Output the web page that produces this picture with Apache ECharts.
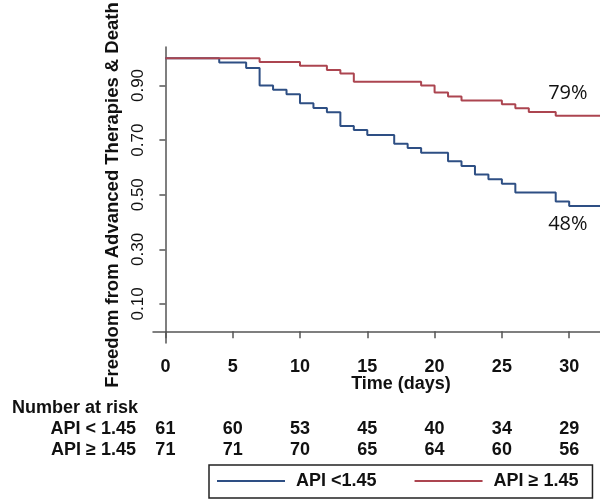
<!DOCTYPE html>
<html>
<head>
<meta charset="utf-8">
<script src="https://cdn.jsdelivr.net/npm/echarts@6/dist/echarts.min.js"></script>
<style>
html,body{margin:0;padding:0;background:#fff;}
#chart{width:600px;height:504px;}
</style>
</head>
<body>
<div id="chart"></div>
<script>
// ---- data ----
var xTicks = [0, 5, 10, 15, 20, 25, 30];
var yTicks = [0.1, 0.3, 0.5, 0.7, 0.9];
var lowName = 'API <1.45';
var highName = 'API \u2265 1.45';
var lowTimes = [0, 4, 6, 7, 8, 9, 10, 11, 12, 13, 14, 15, 17, 18, 19, 21, 22, 23, 24, 25, 26, 29, 30, 33];
var lowSurv  = [1.0, 0.984, 0.964, 0.900, 0.884, 0.868, 0.835, 0.818, 0.802, 0.752, 0.737, 0.719, 0.687, 0.671, 0.654, 0.623, 0.605, 0.574, 0.557, 0.540, 0.508, 0.475, 0.459, 0.459];
var highTimes = [0, 7, 10, 12, 13, 14, 19, 20, 21, 22, 25, 26, 27, 29, 33];
var highSurv  = [1.0, 0.986, 0.972, 0.957, 0.944, 0.914, 0.900, 0.874, 0.860, 0.845, 0.831, 0.817, 0.803, 0.789, 0.789];
var riskLabels = ['API < 1.45', 'API \u2265 1.45'];
var riskLow  = [61, 60, 53, 45, 40, 34, 29];
var riskHigh = [71, 71, 70, 65, 64, 60, 56];
var endLabels = ['48%', '79%'];
var endLabelAt = [[29.9, 0.39], [29.9, 0.87]];

// ---- chart ----
var FONT = '"Liberation Sans", Arial, sans-serif';
var chart = echarts.init(document.getElementById('chart'), null, {renderer: 'canvas'});
function pairs(t, s) { return t.map(function (v, i) { return [v, s[i]]; }); }
function riskAxis(name, values, offset) {
  return {
    type: 'value', gridIndex: 0, position: 'bottom', offset: offset,
    min: -0.92, max: 35.93,
    axisLine: {show: false}, axisTick: {show: false}, splitLine: {show: false},
    axisLabel: {
      customValues: xTicks, margin: 0, verticalAlign: 'middle',
      fontFamily: FONT, fontSize: 18, fontWeight: 'bold', color: '#111',
      formatter: function (v) { var i = xTicks.indexOf(v); return i >= 0 ? String(values[i]) : ''; }
    },
    name: name, nameLocation: 'start', nameGap: 17,
    nameTextStyle: {fontFamily: FONT, fontSize: 18, fontWeight: 'bold', color: '#111'}
  };
}
function endMark(i) {
  return {
    symbol: 'circle', symbolSize: 1, itemStyle: {color: 'rgba(0,0,0,0)'},
    data: [{coord: endLabelAt[i], value: endLabels[i]}],
    label: {show: true, position: 'inside', formatter: endLabels[i],
      fontFamily: '"Open Sans", sans-serif', fontSize: 20, color: '#111'}
  };
}
var option = {
  animation: false,
  backgroundColor: '#fff',
  grid: {left: 153, top: 47, width: 496, height: 296, containLabel: false, outerBoundsMode: 'none'},
  legend: {
    left: 209, top: 465, orient: 'horizontal',
    data: [lowName, highName],
    icon: 'rect', itemWidth: 68, itemHeight: 2, itemGap: 38,
    padding: [7, 14, 8, 8],
    borderColor: '#222', borderWidth: 1.5,
    textStyle: {fontFamily: FONT, fontSize: 18, fontWeight: 'bold', color: '#111', padding: [0, 0, 0, 6]}
  },
  graphic: [{
    type: 'text', left: 12, top: 399,
    style: {text: 'Number at risk', font: 'bold 18px ' + FONT, fill: '#111'}
  }],
  xAxis: [{
    type: 'value', gridIndex: 0, min: -0.92, max: 35.93,
    axisLine: {show: true, lineStyle: {color: '#555', width: 1.5}},
    axisTick: {show: true, customValues: xTicks, length: 7, lineStyle: {color: '#555', width: 1.5}},
    axisLabel: {customValues: xTicks, margin: 15, fontFamily: FONT, fontSize: 18, fontWeight: 'bold', color: '#111'},
    splitLine: {show: false},
    name: 'Time (days)', nameLocation: 'middle', nameGap: 32, nameMoveOverlap: false,
    nameTextStyle: {fontFamily: FONT, fontSize: 18, fontWeight: 'bold', color: '#111'}
  },
  riskAxis(riskLabels[0], riskLow, 86.3),
  riskAxis(riskLabels[1], riskHigh, 107.3)
  ],
  yAxis: {
    type: 'value', min: -0.043, max: 1.041,
    axisLine: {show: true, lineStyle: {color: '#555', width: 1.5}},
    axisTick: {show: true, customValues: yTicks, length: 6, lineStyle: {color: '#555', width: 1.5}},
    axisLabel: {customValues: yTicks, rotate: 90, margin: 6, fontFamily: FONT, fontSize: 17, color: '#111',
      formatter: function (v) { return v.toFixed(2); }},
    splitLine: {show: false},
    name: 'Freedom from Advanced Therapies & Death', nameLocation: 'middle', nameGap: 29,
    nameTextStyle: {fontFamily: FONT, fontSize: 18.5, fontWeight: 'bold', color: '#111'}
  },
  series: [{
    name: lowName, type: 'line', step: 'end', xAxisIndex: 0, yAxisIndex: 0,
    data: pairs(lowTimes, lowSurv), showSymbol: false, symbol: 'none',
    lineStyle: {color: '#2E4F84', width: 2}, itemStyle: {color: '#2E4F84'},
    markPoint: endMark(0)
  }, {
    name: highName, type: 'line', step: 'end', xAxisIndex: 0, yAxisIndex: 0,
    data: pairs(highTimes, highSurv), showSymbol: false, symbol: 'none',
    lineStyle: {color: '#AC4550', width: 2}, itemStyle: {color: '#AC4550'},
    markPoint: endMark(1)
  }]
};
chart.setOption(option);
</script>
</body>
</html>
